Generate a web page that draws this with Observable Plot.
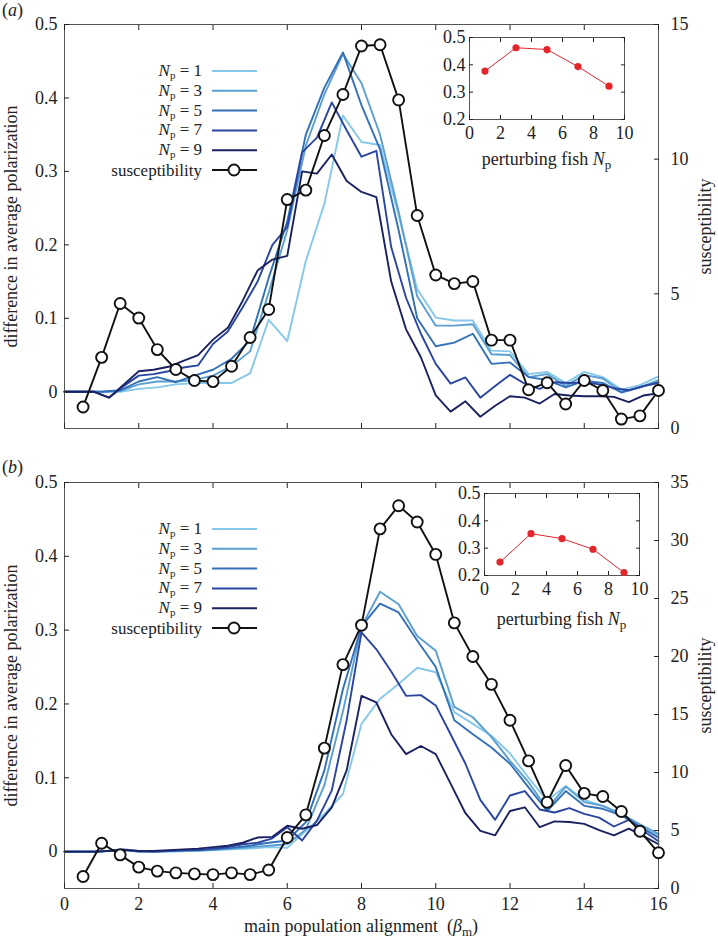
<!DOCTYPE html>
<html><head><meta charset="utf-8">
<script src="https://cdn.jsdelivr.net/npm/d3@7"></script>
<script src="https://cdn.jsdelivr.net/npm/@observablehq/plot@0.6"></script>
<style>
body{margin:0;background:#fff;}
#root{position:relative;width:718px;height:943px;overflow:hidden;font-family:"Liberation Serif","Times New Roman",Times,"DejaVu Serif",serif;color:#222;}
.lbl{position:absolute;font-size:18px;white-space:nowrap;line-height:21px;}
sub{font-size:13px;vertical-align:-4px;line-height:0;}
</style></head>
<body><div id="root"></div>
<script>
// ---------- data ----------
const X05 = [0,0.5,1,1.5,2,2.5,3,3.5,4,4.5,5,5.5,6,6.5,7,7.5,8,8.5,9,9.5,10,10.5,11,11.5,12,12.5,13,13.5,14,14.5,15,15.5,16];
const X04 = [0,0.4,0.8,1.2,1.6,2,2.4,2.8,3.2,3.6,4,4.4,4.8,5.2,5.6,6,6.4,6.8,7.2,7.6,8,8.4,8.8,9.2,9.6,10,10.4,10.8,11.2,11.6,12,12.4,12.8,13.2,13.6,14,14.4,14.8,15.2,15.6,16];
const XSUS = [0.5,1,1.5,2,2.5,3,3.5,4,4.5,5,5.5,6,6.5,7,7.5,8,8.5,9,9.5,10,10.5,11,11.5,12,12.5,13,13.5,14,14.5,15,15.5,16];
const seriesKeys = ["Np=1","Np=3","Np=5","Np=7","Np=9"];
const seriesColors = ["#86c8ea","#5b9fd2","#3270b8","#2a45a0","#1b2160"];

// panel (a)
const aN1 = [0,0,0,0,0.004,0.006,0.01,0.012,0.012,0.012,0.025,0.098,0.069,0.178,0.256,0.376,0.34,0.336,0.24,0.14,0.101,0.097,0.097,0.056,0.055,0.024,0.027,0.012,0.027,0.02,0.003,0.009,0.021];
const aN3 = [0,0,0,0.001,0.01,0.014,0.014,0.016,0.022,0.035,0.055,0.135,0.22,0.335,0.405,0.46,0.42,0.35,0.245,0.13,0.09,0.09,0.092,0.051,0.05,0.02,0.024,0.008,0.023,0.018,0.0,0.006,0.016];
const aN5 = [0,0,0,0.002,0.014,0.02,0.013,0.022,0.03,0.045,0.07,0.155,0.232,0.35,0.414,0.462,0.39,0.33,0.22,0.1,0.062,0.067,0.079,0.038,0.04,0.02,0.016,0.006,0.015,0.012,-0.001,0.006,0.013];
const aN7 = [0,0,0,-0.008,0.008,0.022,0.024,0.028,0.033,0.036,0.065,0.082,0.115,0.15,0.2,0.224,0.326,0.346,0.394,0.356,0.32,0.328,0.197,0.128,0.079,0.038,0.011,0.0195,-0.008,0.008,0.023,0.011,0.004,0.013,0.012,0.013,0.01,0.005,0.002,0.008,0.012];
const aN9 = [0,0,0,-0.008,0.01,0.028,0.03,0.034,0.042,0.05,0.071,0.087,0.124,0.165,0.18,0.185,0.30,0.297,0.323,0.287,0.272,0.265,0.15,0.085,0.047,-0.005,-0.027,-0.013,-0.034,-0.019,-0.006,-0.008,-0.016,-0.003,-0.005,-0.006,-0.006,-0.007,-0.014,-0.005,-0.002];
const aSus = [0.8,2.64,4.64,4.1,2.93,2.19,1.78,1.74,2.31,3.38,4.42,8.5,8.85,10.88,12.4,14.2,14.25,12.2,7.91,5.7,5.38,5.46,3.28,3.28,1.44,1.7,0.91,1.78,1.41,0.35,0.47,1.41];

// panel (b)
const bN1 = [0,0,0,0.002,0,0,0,0.001,0.002,0.003,0.004,0.006,0.005,0.028,0.051,0.078,0.173,0.207,0.227,0.249,0.243,0.189,0.173,0.157,0.133,0.1,0.069,0.089,0.07,0.062,0.05,0.034,0.022];
const bN3 = [0,0,0,0.003,0,0,0.001,0.001,0.002,0.004,0.006,0.008,0.01,0.03,0.09,0.19,0.305,0.352,0.335,0.292,0.272,0.196,0.182,0.155,0.123,0.094,0.058,0.088,0.067,0.062,0.051,0.037,0.024];
const bN5 = [0,0,0,0.003,0,0,0.001,0.002,0.003,0.005,0.008,0.012,0.015,0.04,0.11,0.22,0.305,0.336,0.324,0.286,0.25,0.178,0.159,0.141,0.119,0.087,0.055,0.082,0.062,0.058,0.049,0.034,0.019];
const bN7 = [0,0,0,0.001,0.003,0.001,0,0.001,0.002,0.002,0.004,0.006,0.01,0.012,0.018,0.033,0.015,0.042,0.083,0.178,0.297,0.274,0.244,0.211,0.212,0.198,0.159,0.119,0.07,0.043,0.076,0.082,0.057,0.053,0.059,0.051,0.046,0.034,0.043,0.028,0.014];
const bN9 = [0,0,0,0.001,0.002,0.001,0.001,0.002,0.003,0.004,0.006,0.008,0.012,0.019,0.02,0.035,0.031,0.036,0.06,0.11,0.211,0.202,0.159,0.132,0.143,0.132,0.092,0.052,0.028,0.022,0.055,0.06,0.033,0.041,0.04,0.0375,0.029,0.022,0.031,0.021,0.01];
const bSus = [1.03,3.9,2.9,1.84,1.5,1.35,1.26,1.2,1.35,1.2,1.6,4.4,6.35,12.1,19.3,22.7,31.0,33.0,31.6,28.8,22.9,20.0,17.6,14.5,11.0,7.44,10.6,8.2,7.93,6.64,4.94,3.08];

// insets
const insetNp = [1,3,5,7,9];
const insetA = [0.377,0.4625,0.456,0.3935,0.322];
const insetB = [0.249,0.353,0.335,0.296,0.211];

// ticks
const xTicks = [0,2,4,6,8,10,12,14,16];
const yTicks = [0,0.1,0.2,0.3,0.4,0.5];
const susTicksA = [0,5,10,15];
const susTicksB = [0,5,10,15,20,25,30,35];
const insetXTicks = [0,2,4,6,8,10];
const insetYTicks = [0.2,0.3,0.4,0.5];

// ---------- layout ----------
const root = document.getElementById("root");
const W = 718, ML = 64, MR = 60, MT = 24;
const FONT = "'Liberation Serif','Times New Roman',Times,'DejaVu Serif',serif";
const style = {background:"none", fontFamily: FONT, fontSize:"18px", color:"#222", overflow:"visible"};
const frameStroke = "#555";

function place(el, left, top) {
  el.style.position = "absolute"; el.style.left = left + "px"; el.style.top = top + "px";
  root.appendChild(el); return el;
}
function rows(xs, ys, k) { return xs.map((x, i) => ({x, y: ys[i], k})); }

function panel({top, H, MB, lines, sus, susMax, susTicks, xLabels}) {
  const data = lines.flatMap(([xs, ys], i) => rows(xs, ys, seriesKeys[i]));
  const main = Plot.plot({
    width: W, height: H, marginLeft: ML, marginRight: MR, marginTop: MT, marginBottom: MB,
    style,
    x: {domain: [0, 16]},
    y: {domain: [-0.05, 0.5]},
    color: {domain: seriesKeys, range: seriesColors},
    marks: [
      Plot.line(data, {x: "x", y: "y", z: "k", stroke: "k", strokeWidth: 1.9}),
      Plot.frame({stroke: frameStroke}),
      Plot.axisY({ticks: yTicks, tickSize: -5, tickPadding: 12, tickFormat: d => d === 0 ? "0" : d.toFixed(1),
        label: "difference in average polarization", labelAnchor: "center", labelArrow: "none", labelOffset: 60}),
      Plot.axisX({anchor: "bottom", ticks: xTicks, tickSize: -5, tickPadding: 14,
        tickFormat: xLabels ? (d => String(d)) : (() => ""), label: null}),
      Plot.axisX({anchor: "top", ticks: xTicks, tickSize: -5, tickFormat: () => "", label: null})
    ]
  });
  place(main, 0, top);
  const susData = rows(XSUS, sus, "s");
  const over = Plot.plot({
    width: W, height: H, marginLeft: ML, marginRight: MR, marginTop: MT, marginBottom: MB,
    style,
    x: {domain: [0, 16], axis: null},
    y: {domain: [0, susMax]},
    marks: [
      Plot.line(susData, {x: "x", y: "y", stroke: "#111", strokeWidth: 1.9}),
      Plot.dot(susData, {x: "x", y: "y", r: 5.5, fill: "white", stroke: "#111", strokeWidth: 1.9}),
      Plot.axisY({anchor: "right", ticks: susTicks, tickSize: -5, tickPadding: 17, tickFormat: d => String(d),
        label: "susceptibility", labelAnchor: "center", labelArrow: "none", labelOffset: 52})
    ]
  });
  place(over, 0, top);
}

function inset({left, top, vals, labelDy}) {
  const d = rows(insetNp, vals, "i");
  const p = Plot.plot({
    width: 210, height: 117, marginLeft: 40, marginRight: 15, marginTop: 10, marginBottom: 25,
    style,
    x: {domain: [0, 10]},
    y: {domain: [0.2, 0.5]},
    marks: [
      Plot.frame({stroke: frameStroke}),
      Plot.line(d, {x: "x", y: "y", stroke: "#e3262b", strokeWidth: 1}),
      Plot.dot(d, {x: "x", y: "y", r: 3.6, fill: "#e3262b"}),
      Plot.axisX({anchor: "bottom", ticks: insetXTicks, tickSize: -4, tickPadding: 11, tickFormat: d => String(d), label: null}),
      Plot.axisX({anchor: "top", ticks: insetXTicks, tickSize: -4, tickFormat: () => "", label: null}),
      Plot.axisY({anchor: "left", ticks: insetYTicks, tickSize: -4, tickPadding: 8, tickFormat: d => d.toFixed(1), label: null}),
      Plot.axisY({anchor: "right", ticks: insetYTicks, tickSize: -4, tickFormat: () => "", label: null})
    ]
  });
  place(p, left, top);
  const l = document.createElement("div");
  l.className = "lbl";
  l.style.width = "210px"; l.style.textAlign = "center"; l.style.paddingLeft = "25px"; l.style.boxSizing = "border-box";
  l.innerHTML = 'perturbing fish <i>N</i><sub>p</sub>';
  place(l, left, top + labelDy);
}

function legend(top) {
  const NS = "http://www.w3.org/2000/svg";
  const svg = document.createElementNS(NS, "svg");
  svg.setAttribute("width", 270); svg.setAttribute("height", 130);
  svg.style.overflow = "visible";
  const labels = ["1","3","5","7","9"];
  const y0 = 12, dy = 19.8;
  const tf = `font-family="${FONT.replace(/'/g, "")}" font-size="17" fill="#222"`;
  let html = "";
  labels.forEach((n, i) => {
    const y = y0 + i * dy;
    html += `<text x="202" y="${y + 5}" text-anchor="end" ${tf}><tspan font-style="italic">N</tspan><tspan font-size="11" dy="3">p</tspan><tspan dy="-3"> = ${n}</tspan></text>`;
    html += `<line x1="212" x2="257" y1="${y}" y2="${y}" stroke="${seriesColors[i]}" stroke-width="2"/>`;
  });
  const ys = y0 + 5 * dy;
  html += `<text x="202" y="${ys + 6}" text-anchor="end" ${tf} font-size="18">susceptibility</text>`;
  html += `<line x1="212" x2="257" y1="${ys}" y2="${ys}" stroke="#111" stroke-width="2"/>`;
  html += `<circle cx="234" cy="${ys}" r="5.5" fill="white" stroke="#111" stroke-width="1.9"/>`;
  svg.innerHTML = html;
  place(svg, 0, top);
}

function tag(text, top) {
  const d = document.createElement("div");
  d.className = "lbl"; d.innerHTML = text; place(d, 2, top);
}

// panel (a)
panel({top: 0, H: 440, MB: 12,
  lines: [[X05, aN1], [X05, aN3], [X05, aN5], [X04, aN7], [X04, aN9]],
  sus: aSus, susMax: 15, susTicks: susTicksA, xLabels: false});
inset({left: 429, top: 27, vals: insetA, labelDy: 122});
legend(59);
tag("(<i>a</i>)", 0);

// panel (b)
panel({top: 458, H: 485, MB: 55,
  lines: [[X05, bN1], [X05, bN3], [X05, bN5], [X04, bN7], [X04, bN9]],
  sus: bSus, susMax: 35, susTicks: susTicksB, xLabels: true});
inset({left: 444, top: 483, vals: insetB, labelDy: 126});
legend(517);
tag("(<i>b</i>)", 457);

const xl = document.createElement("div");
xl.className = "lbl"; xl.style.width = "594px"; xl.style.textAlign = "center";
xl.innerHTML = 'main population alignment&nbsp; (<i>β</i><sub>m</sub>)';
place(xl, 64, 916);
</script></body></html>
